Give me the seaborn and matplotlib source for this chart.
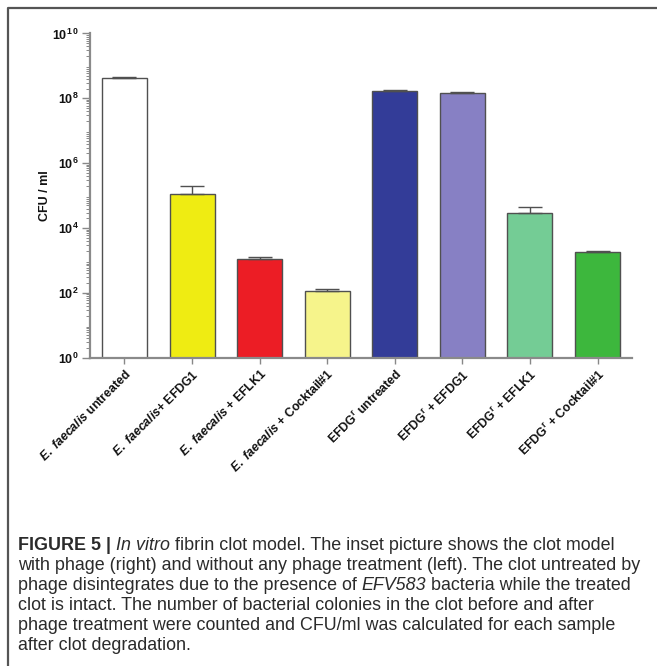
import numpy as np
import pandas as pd
import matplotlib
matplotlib.use("Agg")
import matplotlib.pyplot as plt
from matplotlib.ticker import LogLocator, FixedLocator, NullFormatter
import seaborn as sns

# Colony counts after clot degradation (CFU/ml) and upper SD
groups = [
    r"$\mathit{E.\ faecalis}$ untreated",
    r"$\mathit{E.\ faecalis}$+ EFDG1",
    r"$\mathit{E.\ faecalis}$ + EFLK1",
    r"$\mathit{E.\ faecalis}$ + Cocktail#1",
    r"EFDG$^{\mathrm{r}}$ untreated",
    r"EFDG$^{\mathrm{r}}$ + EFDG1",
    r"EFDG$^{\mathrm{r}}$ + EFLK1",
    r"EFDG$^{\mathrm{r}}$ + Cocktail#1",
]
cfu = [4.3e8, 1.12e5, 1.1e3, 115, 1.7e8, 1.46e8, 2.9e4, 1.8e3]
cfu_sd = [0.2e8, 0.9e5, 0.2e3, 17, 0.05e8, 0.14e8, 1.5e4, 0.2e3]
bar_colors = ["#FFFFFF", "#EFEC12", "#EC1D25", "#F6F48B",
              "#333C98", "#8780C4", "#74CC95", "#3DB73D"]

ytick_vals = [1, 1e2, 1e4, 1e6, 1e8, 1e10]
ytick_text = [r"$\mathbf{10^{0}}$", r"$\mathbf{10^{2}}$", r"$\mathbf{10^{4}}$",
              r"$\mathbf{10^{6}}$", r"$\mathbf{10^{8}}$", r"$\mathbf{10^{1\,0}}$"]

sns.set_theme(style="white")
plt.rcParams["font.family"] = ["Liberation Sans", "DejaVu Sans"]
plt.rcParams["mathtext.fontset"] = "custom"
plt.rcParams["mathtext.rm"] = "Liberation Sans:bold"
plt.rcParams["mathtext.bf"] = "Liberation Sans:bold"
plt.rcParams["mathtext.it"] = "Liberation Sans:italic:bold"

df = pd.DataFrame({"group": groups, "cfu": cfu})

fig = plt.figure(figsize=(6.57, 6.66), dpi=100)
ax = fig.add_axes([90 / 657, 1 - 357.7 / 666, 542 / 657, 324.2 / 666])
ax.set_yscale("log")

sns.barplot(data=df, x="group", y="cfu", hue="group", palette=bar_colors,
            legend=False, width=0.665, saturation=1, edgecolor="#505050",
            linewidth=1.0, errorbar=None, ax=ax, zorder=2)

xpos = np.arange(len(groups))
ax.errorbar(xpos, cfu, yerr=[np.zeros(len(cfu)), cfu_sd], fmt="none",
            ecolor="#505050", elinewidth=1.0, capsize=8.3, capthick=1.0, zorder=3)

ax.set_xlim(-0.51, len(groups) - 0.49)
ax.set_ylim(1, 1e10)

ax.yaxis.set_major_locator(FixedLocator(ytick_vals))
ax.set_yticklabels(ytick_text, fontsize=9)
ax.yaxis.set_minor_locator(LogLocator(base=10, subs=np.arange(2, 10), numticks=20))
ax.yaxis.set_minor_formatter(NullFormatter())

ax.set_xticks(xpos)
ax.set_xticklabels(groups, rotation=45, ha="right", rotation_mode="anchor",
                   fontsize=8.8, fontweight="bold")

ax.tick_params(axis="y", which="major", direction="out", length=6, width=1.0,
               color="#888888", left=True, pad=2, labelcolor="#111111")
ax.tick_params(axis="y", which="minor", direction="out", length=3, width=0.7,
               color="#888888", left=True)
ax.tick_params(axis="x", which="major", direction="out", length=4, width=1.0,
               color="#888888", bottom=True, pad=3, labelcolor="#111111")

for side in ["top", "right"]:
    ax.spines[side].set_visible(False)
for side in ["left", "bottom"]:
    ax.spines[side].set_color("#8a8a8a")
    ax.spines[side].set_linewidth(1.6)

ax.set_xlabel("")
ax.set_ylabel("CFU / ml", fontsize=9, fontweight="bold", labelpad=1, color="#111111")

# Frame around the figure panel
fig.add_artist(plt.Line2D([8 / 657, 8 / 657, 1.0], [0.0, 1 - 8 / 666, 1 - 8 / 666],
                          transform=fig.transFigure, color="#555555", lw=1.6))

# Caption, drawn as runs of differently styled text
caption = [
    [("FIGURE 5 | ", "normal", "bold"), ("In vitro", "italic", "normal"),
     (" fibrin clot model. The inset picture shows the clot model", "normal", "normal")],
    [("with phage (right) and without any phage treatment (left). The clot untreated by",
      "normal", "normal")],
    [("phage disintegrates due to the presence of ", "normal", "normal"),
     ("EFV583", "italic", "normal"),
     (" bacteria while the treated", "normal", "normal")],
    [("clot is intact. The number of bacterial colonies in the clot before and after",
      "normal", "normal")],
    [("phage treatment were counted and CFU/ml was calculated for each sample",
      "normal", "normal")],
    [("after clot degradation.", "normal", "normal")],
]

fig.canvas.draw()
renderer = fig.canvas.get_renderer()
x0 = 18 / 657
y_first = 546
line_step = 20.0
for i, runs in enumerate(caption):
    x = x0
    y = 1 - (y_first + i * line_step) / 666
    for text, style, weight in runs:
        t = fig.text(x, y, text, fontsize=12.9, fontstyle=style, fontweight=weight,
                     color="#2b2b2b", va="center", ha="left",
                     family=["Liberation Sans", "DejaVu Sans"])
        bb = t.get_window_extent(renderer=renderer)
        x += bb.width / fig.bbox.width

fig.savefig("out.png", dpi=100)
